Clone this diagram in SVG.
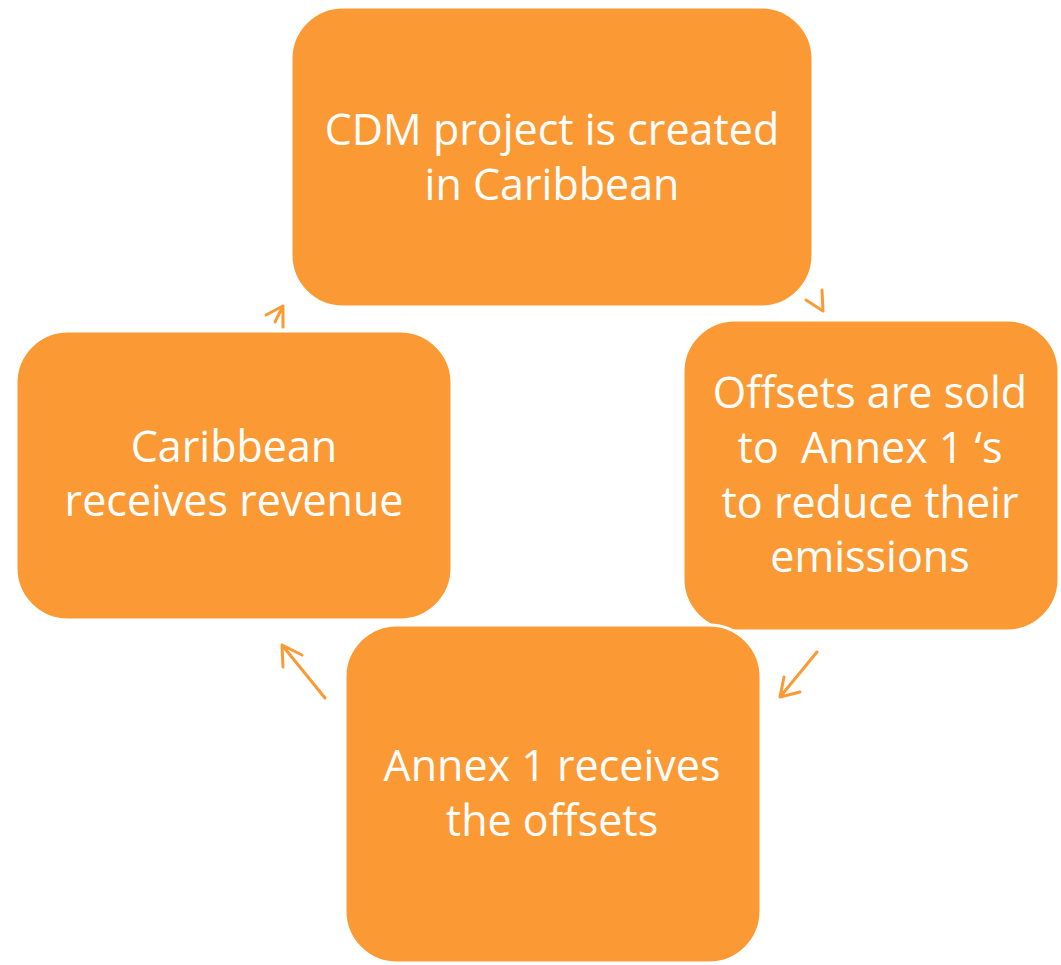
<svg xmlns="http://www.w3.org/2000/svg" width="1061" height="965" viewBox="0 0 1061 965">
<style>
.box{fill:#FB9A35;stroke:#FFFFFF;stroke-width:3}
.t{fill:#FFFFFF;font-family:"Open Sans","Liberation Sans",sans-serif;font-size:43px;text-anchor:middle;white-space:pre}
.arr{fill:none;stroke:#FB9A35;stroke-width:3;stroke-linecap:round;stroke-linejoin:round}
</style>
<rect width="1061" height="965" fill="#FFFFFF"/>
<g id="node-top">
<rect class="box" x="291" y="7" width="522" height="300" rx="52"/>
<text class="t" x="552" y="145">CDM project is created</text>
<text class="t" x="552" y="200">in Caribbean</text>
</g>
<g id="node-right">
<rect class="box" x="683" y="320" width="376" height="311" rx="52"/>
<text class="t" x="870" y="408">Offsets are sold</text>
<text class="t" x="870" y="463" xml:space="preserve">to  Annex 1 ‘s</text>
<text class="t" x="870" y="518">to reduce their</text>
<text class="t" x="870" y="572">emissions</text>
</g>
<g id="node-left">
<rect class="box" x="16" y="331" width="436" height="289" rx="52"/>
<text class="t" x="234" y="462">Caribbean</text>
<text class="t" x="234" y="516">receives revenue</text>
</g>
<g id="node-bottom">
<rect class="box" x="345" y="625" width="416" height="338" rx="52"/>
<text class="t" x="552" y="781">Annex 1 receives</text>
<text class="t" x="552" y="836">the offsets</text>
</g>
<g id="connectors">
<path class="arr" d="M283,327 L283,306 M266,315 L283,306 L275,322"/>
<path class="arr" d="M822,290 L823,311 M806,300 L823,311"/>
<path class="arr" d="M817,652 L780,697 M784,677 L780,697 L800,692"/>
<path class="arr" d="M325,698 L282,645 M283,667 L282,645 L302,655"/>
</g>
</svg>
